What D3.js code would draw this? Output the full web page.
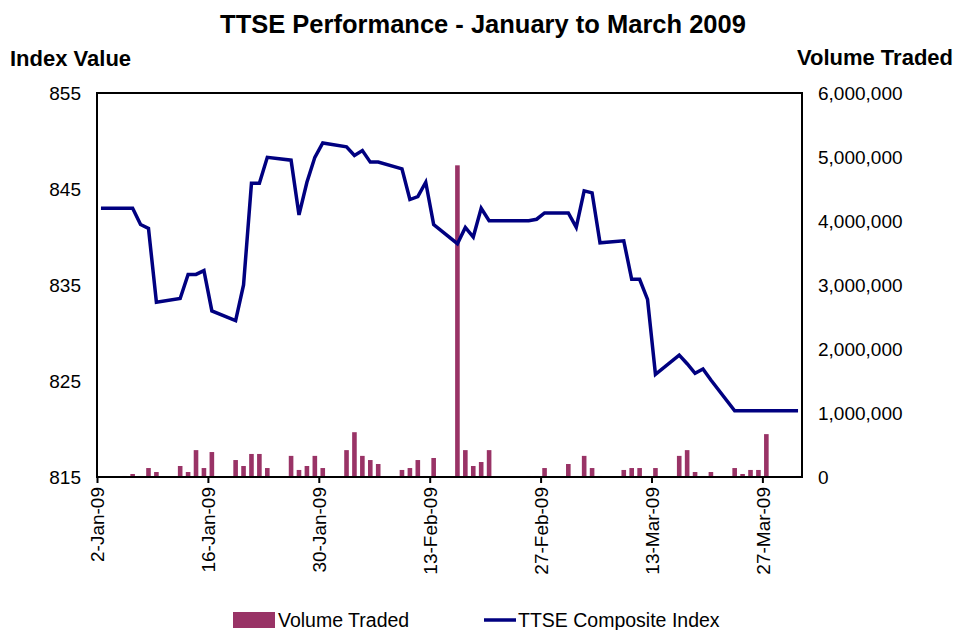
<!DOCTYPE html>
<html>
<head>
<meta charset="utf-8">
<script src="https://cdn.jsdelivr.net/npm/d3@7"></script>
<style>
  body { margin: 0; background: #fff; }
  text { font-family: "Liberation Sans", Arial, sans-serif; fill: #000; }
</style>
</head>
<body>
<svg id="chart" width="956" height="630"></svg>
<script>
// trading days, Jan - Mar 2009 (Carnival Feb 23-24 closed)
const tradeDates = [
  "2009-01-02", "2009-01-05", "2009-01-06", "2009-01-07", "2009-01-08", "2009-01-09",
  "2009-01-12", "2009-01-13", "2009-01-14", "2009-01-15", "2009-01-16",
  "2009-01-19", "2009-01-20", "2009-01-21", "2009-01-22", "2009-01-23",
  "2009-01-26", "2009-01-27", "2009-01-28", "2009-01-29", "2009-01-30",
  "2009-02-02", "2009-02-03", "2009-02-04", "2009-02-05", "2009-02-06",
  "2009-02-09", "2009-02-10", "2009-02-11", "2009-02-12", "2009-02-13",
  "2009-02-16", "2009-02-17", "2009-02-18", "2009-02-19", "2009-02-20",
  "2009-02-25", "2009-02-26", "2009-02-27",
  "2009-03-02", "2009-03-03", "2009-03-04", "2009-03-05", "2009-03-06",
  "2009-03-09", "2009-03-10", "2009-03-11", "2009-03-12", "2009-03-13",
  "2009-03-16", "2009-03-17", "2009-03-18", "2009-03-19", "2009-03-20",
  "2009-03-23", "2009-03-24", "2009-03-25", "2009-03-26", "2009-03-27",
  "2009-03-30", "2009-03-31"
];

const compositeIndex = [
  843.0, 843.0, 843.0, 841.3, 840.9, 833.2,
  833.6, 836.1, 836.1, 836.5, 832.3,
  831.3, 835.0, 845.6, 845.6, 848.3,
  848.0, 842.3, 845.7, 848.3, 849.8,
  849.4, 848.5, 849.0, 847.8, 847.8,
  847.1, 843.9, 844.2, 845.7, 841.3,
  839.3, 841.0, 840.0, 843.0, 841.7,
  841.7, 841.85, 842.5,
  842.5, 841.0, 844.8, 844.6, 839.4,
  839.6, 835.6, 835.6, 833.5, 825.7,
  827.7, 826.8, 825.8, 826.25, 825.1,
  821.9, 821.9, 821.9, 821.9, 821.9,
  821.9, 821.9
];

const volumeTraded = [
  0, 16000, 47000, 16000, 140000, 78000,
  172000, 78000, 420000, 140000, 390000,
  265000, 172000, 360000, 360000, 140000,
  330000, 110000, 172000, 330000, 140000,
  420000, 700000, 330000, 265000, 203000,
  110000, 140000, 265000, 16000, 297000,
  4870000, 420000, 172000, 234000, 420000,
  16000, 16000, 140000,
  203000, 16000, 330000, 140000, 16000,
  110000, 140000, 140000, 16000, 140000,
  330000, 420000, 78000, 16000, 78000,
  140000, 47000, 110000, 110000, 670000,
  0, 16000
];

const tickDates = ["2009-01-02", "2009-01-16", "2009-01-30", "2009-02-13", "2009-02-27", "2009-03-13", "2009-03-27"];
const indexTicks = [815, 825, 835, 845, 855];
const volumeTicks = [0, 1000000, 2000000, 3000000, 4000000, 5000000, 6000000];

const parseDate = d3.timeParse("%Y-%m-%d");
const fmtTick = d3.timeFormat("%-d-%b-%y");

const data = tradeDates.map((d, i) => ({
  date: parseDate(d),
  index: compositeIndex[i],
  volume: volumeTraded[i]
}));

const svg = d3.select("#chart");
const plot = { left: 97, right: 802, top: 93, bottom: 477 };

const x = d3.scaleTime()
  .domain([parseDate("2009-01-02"), parseDate("2009-04-01")])
  .range([plot.left, plot.right]);
// points sit in the middle of their day slot
const xMid = (d) => x(d3.timeHour.offset(d, 12));

const yIndex = d3.scaleLinear().domain([815, 855]).range([plot.bottom, plot.top]);
const yVol = d3.scaleLinear().domain([0, 6000000]).range([plot.bottom, plot.top]);

const barColor = "#993366";
const lineColor = "#000080";

// bars
const barW = 4.6;
svg.append("g")
  .selectAll("rect")
  .data(data.filter((d) => d.volume > 0))
  .join("rect")
  .attr("x", (d) => xMid(d.date) - barW / 2)
  .attr("y", (d) => yVol(d.volume))
  .attr("width", barW)
  .attr("height", (d) => plot.bottom - yVol(d.volume))
  .attr("fill", barColor);

// line
const lineGen = d3.line()
  .x((d) => xMid(d.date))
  .y((d) => yIndex(d.index));

svg.append("path")
  .datum(data)
  .attr("d", lineGen)
  .attr("fill", "none")
  .attr("stroke", lineColor)
  .attr("stroke-width", 3.5)
  .attr("stroke-linejoin", "miter");

// frame
svg.append("rect")
  .attr("x", plot.left)
  .attr("y", plot.top)
  .attr("width", plot.right - plot.left)
  .attr("height", plot.bottom - plot.top)
  .attr("fill", "none")
  .attr("stroke", "#000")
  .attr("stroke-width", 2);

// axes
const leftAxis = d3.axisLeft(yIndex).tickValues(indexTicks).tickSize(0).tickPadding(16);
const rightAxis = d3.axisRight(yVol).tickValues(volumeTicks).tickSize(0).tickPadding(16).tickFormat(d3.format(","));
const bottomAxis = d3.axisBottom(x).tickValues(tickDates.map(parseDate)).tickSize(6).tickFormat(fmtTick);

const gl = svg.append("g").attr("transform", `translate(${plot.left},0)`).call(leftAxis);
const gr = svg.append("g").attr("transform", `translate(${plot.right},0)`).call(rightAxis);
const gb = svg.append("g").attr("transform", `translate(0,${plot.bottom})`).call(bottomAxis);

[gl, gr, gb].forEach((g) => {
  g.select(".domain").remove();
  g.selectAll("text").style("font-size", "19px").attr("font-family", null);
});
gb.selectAll("line").attr("stroke", "#000").attr("stroke-width", 2);
gb.selectAll("text")
  .attr("text-anchor", "end")
  .attr("transform", "rotate(-90)")
  .attr("x", -10)
  .attr("y", 0)
  .attr("dy", "0.35em");

// titles
svg.append("text")
  .attr("x", 483)
  .attr("y", 33)
  .attr("text-anchor", "middle")
  .style("font-size", "25.5px")
  .style("font-weight", "bold")
  .text("TTSE Performance - January to March 2009");

svg.append("text")
  .attr("x", 10)
  .attr("y", 66)
  .style("font-size", "22px")
  .style("font-weight", "bold")
  .text("Index Value");

svg.append("text")
  .attr("x", 953)
  .attr("y", 65)
  .attr("text-anchor", "end")
  .style("font-size", "22px")
  .style("font-weight", "bold")
  .text("Volume Traded");

// legend
const legend = svg.append("g");
legend.append("rect")
  .attr("x", 233).attr("y", 612).attr("width", 42).attr("height", 16)
  .attr("fill", barColor);
legend.append("text")
  .attr("x", 278).attr("y", 620).attr("dy", "0.35em")
  .style("font-size", "19.5px")
  .text("Volume Traded");
legend.append("line")
  .attr("x1", 484).attr("x2", 516).attr("y1", 620).attr("y2", 620)
  .attr("stroke", lineColor).attr("stroke-width", 3.5);
legend.append("text")
  .attr("x", 518).attr("y", 620).attr("dy", "0.35em")
  .style("font-size", "19.5px")
  .text("TTSE Composite Index");
</script>
</body>
</html>
